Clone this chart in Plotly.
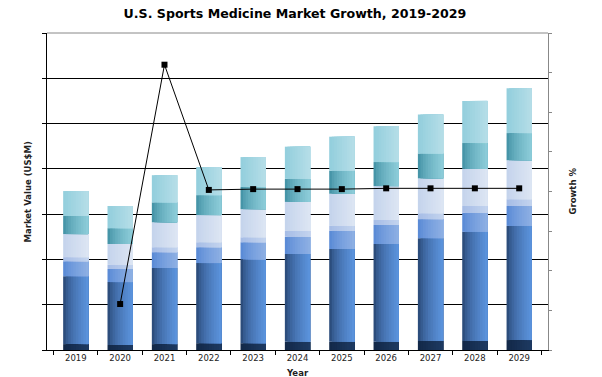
import plotly.graph_objects as go

years = ['2019', '2020', '2021', '2022', '2023', '2024', '2025', '2026', '2027', '2028', '2029']
seg_dark = [13, 11, 13, 15, 15, 18, 18, 18, 20, 20, 22]
seg_blue = [150, 139, 168, 177, 185, 194, 205, 216, 227, 241, 252]
seg_mid = [33, 29, 35, 35, 38, 38, 40, 42, 42, 42, 44]
seg_pale = [9, 9, 11, 11, 11, 13, 11, 11, 13, 15, 15]
seg_light = [51, 46, 55, 60, 62, 64, 71, 75, 77, 82, 86]
seg_teal = [40, 35, 44, 44, 49, 51, 51, 53, 55, 57, 60]
seg_cyan = [55, 49, 60, 62, 66, 71, 75, 79, 86, 93, 99]
growth = [None, -9.2, 21.0, 5.2, 5.3, 5.3, 5.3, 5.4, 5.4, 5.4, 5.4]

segments = [
    (seg_dark, (18, 40, 72), (30, 58, 98), 1.0),
    (seg_blue, (30, 56, 96), (92, 148, 222), 0.5),
    (seg_mid, (84, 134, 212), (142, 176, 228), 0.7),
    (seg_pale, (165, 188, 230), (196, 212, 238), 1.0),
    (seg_light, (196, 211, 236), (221, 230, 243), 1.0),
    (seg_teal, (56, 138, 158), (142, 205, 218), 0.6),
    (seg_cyan, (146, 206, 220), (182, 222, 232), 1.0),
]

W = 0.57
N = 10
fig = go.Figure()
base = [0] * len(years)
for vals, c0, c1, ease in segments:
    for k in range(N):
        t = ((k + 0.5) / N) ** ease
        col = 'rgb(%d,%d,%d)' % tuple(round(c0[i] + (c1[i] - c0[i]) * t) for i in range(3))
        fig.add_trace(go.Bar(
            x=years, y=vals, base=base, width=W - k * W / N,
            offset=-W / 2 + k * W / N, marker=dict(color=col, line=dict(width=0)),
            showlegend=False, hoverinfo='skip'))
    base = [b + v for b, v in zip(base, vals)]

fig.add_trace(go.Scatter(
    x=years, y=growth, yaxis='y2', mode='lines+markers',
    line=dict(color='black', width=1),
    marker=dict(symbol='square', size=6, color='black'),
    showlegend=False, connectgaps=False))

fig.update_layout(
    width=602, height=377,
    margin=dict(l=47, r=54, t=33, b=27),
    paper_bgcolor='white', plot_bgcolor='white',
    barmode='overlay',
    title=dict(text='<b>U.S. Sports Medicine Market Growth, 2019-2029</b>',
               font=dict(family='DejaVu Sans', size=12.6, color='black'),
               x=0.49, xanchor='center', y=1 - 14 / 377, yanchor='middle'),
    xaxis=dict(type='category', showline=True, linecolor='black', linewidth=1,
               ticks='outside', tickson='boundaries', ticklen=4, tickcolor='black',
               tickfont=dict(family='DejaVu Sans', size=8.5, color='#222'),
               showgrid=False, zeroline=False),
    yaxis=dict(range=[0, 700], tickvals=[0, 100, 200, 300, 400, 500, 600, 700],
               showticklabels=False, ticks='outside', ticklen=4, tickcolor='black',
               showline=True, linecolor='black', linewidth=1,
               showgrid=True, gridcolor='black', gridwidth=1, zeroline=False),
    yaxis2=dict(range=[-15, 25], dtick=5, overlaying='y', side='right',
                showticklabels=False, ticks='outside', ticklen=3, tickcolor='#888',
                showline=True, linecolor='#888', linewidth=1,
                showgrid=False, zeroline=False),
    shapes=[dict(type='line', xref='paper', yref='paper', x0=0, x1=1, y0=1, y1=1,
                 line=dict(color='#888', width=1))],
    annotations=[
        dict(text='<b>Market Value (US$M)</b>', xref='paper', yref='paper',
             x=-0.038, y=0.5, xanchor='center', yanchor='middle', textangle=-90,
             showarrow=False, font=dict(family='DejaVu Sans', size=8.5, color='#222')),
        dict(text='<b>Growth %</b>', xref='paper', yref='paper',
             x=1 + 24 / 501, y=0.5, xanchor='center', yanchor='middle', textangle=-90,
             showarrow=False, font=dict(family='DejaVu Sans', size=8.5, color='#222')),
        dict(text='<b>Year</b>', xref='paper', yref='paper',
             x=0.5, y=-16 / 317, xanchor='center', yanchor='top',
             showarrow=False, font=dict(family='DejaVu Sans', size=8.5, color='#222')),
    ],
)

fig.write_html('out.html')
